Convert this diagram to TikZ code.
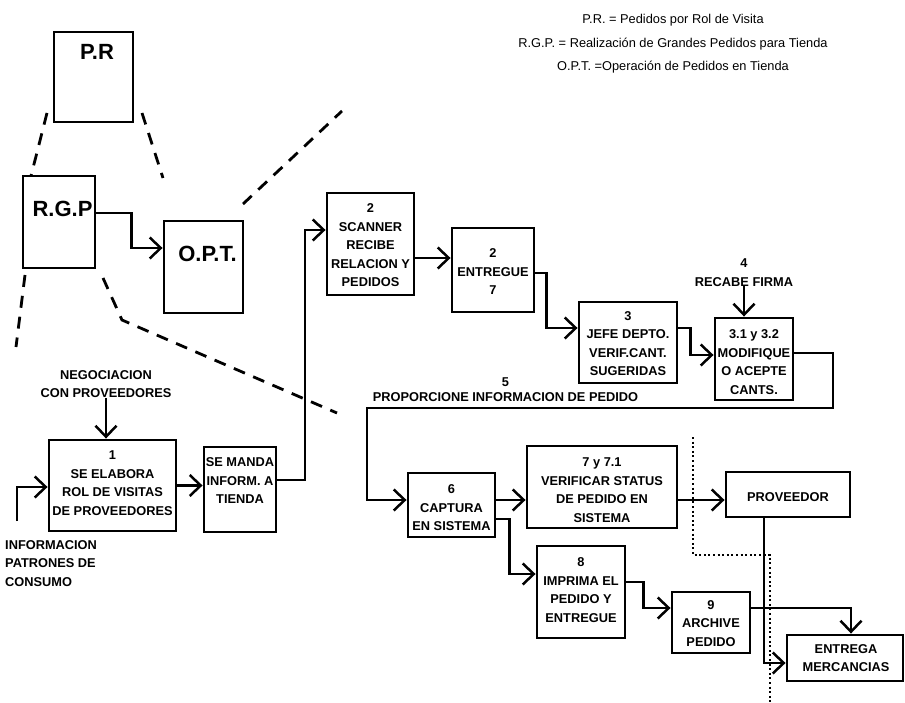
\documentclass[tikz,border=0pt]{standalone}
\usepackage{fontspec}
\setmainfont{Liberation Sans}
\usetikzlibrary{arrows.meta,calc}
\begin{document}
\begin{tikzpicture}[x=1pt,y=-1pt,
  box/.style={draw, line width=2.9pt, inner sep=0pt, line join=miter},
  txt/.style={font=\fontsize{12.8}{18.5}\selectfont\bfseries, align=center, inner sep=0pt},
  ttl/.style={font=\fontsize{22}{26}\selectfont\bfseries, inner sep=0pt},
  hdr/.style={font=\fontsize{12.8}{23.5}\selectfont, align=center, inner sep=0pt},
  arr/.style={line width=2.5pt, line join=miter, -{Straight Barb[length=11pt,width=21pt]}},
  dsh/.style={line width=2.8pt, dash pattern=on 12pt off 9pt},
  dot/.style={line width=2.5pt, dash pattern=on 2pt off 2.6pt}]
\useasboundingbox (0,0) rectangle (905,703);

% legend
\node[hdr] (leg) at (673,44) {P.R. = Pedidos por Rol de Visita\\R.G.P. = Realización de Grandes Pedidos para Tienda\\O.P.T. =Operación de Pedidos en Tienda};

% overview boxes
\node[box, minimum width=79pt, minimum height=90pt] (pr) at (93.5,77) {};
\node[box, minimum width=72pt, minimum height=92pt] (rgp) at (59,222) {};
\node[box, minimum width=79pt, minimum height=92pt] (opt) at (203.5,267) {};
\node[ttl] (prt) at (97,52) {P.R};
\node[ttl] (rgpt) at (62.5,208.5) {R.G.P};
\node[ttl] (optt) at (207.5,253.5) {O.P.T.};

% process boxes
\node[box, minimum width=127pt, minimum height=91pt] (b1) at (112.5,485.5) {};
\node[box, minimum width=72pt, minimum height=85pt] (sm) at (240,489.5) {};
\node[box, minimum width=87pt, minimum height=102pt] (b2) at (370.5,244) {};
\node[box, minimum width=82pt, minimum height=84pt] (en) at (493,270) {};
\node[box, minimum width=98pt, minimum height=81pt] (b3) at (628,342.5) {};
\node[box, minimum width=78pt, minimum height=82pt] (b31) at (754,359) {};
\node[box, minimum width=87pt, minimum height=64pt] (cap) at (451.5,505) {};
\node[box, minimum width=150pt, minimum height=82pt] (b7) at (602,487) {};
\node[box, minimum width=124pt, minimum height=45pt] (prov) at (788,494.5) {};
\node[box, minimum width=88pt, minimum height=92pt] (b8) at (581,592) {};
\node[box, minimum width=78pt, minimum height=61pt] (b9) at (711,622.5) {};
\node[box, minimum width=116pt, minimum height=46pt] (ent) at (845,658) {};

% box texts
\node[txt] (b1t) at (112.5,483) {1\\SE ELABORA\\ROL DE VISITAS\\DE PROVEEDORES};
\node[txt] (smt) at (240,481) {SE MANDA\\INFORM. A\\TIENDA};
\node[txt] (b2t) at (370.5,245.5) {2\\SCANNER\\RECIBE\\RELACION Y\\PEDIDOS};
\node[txt] (ent2) at (493,272) {2\\ENTREGUE\\7};
\node[txt] (b3t) at (628,343.5) {3\\JEFE DEPTO.\\VERIF.CANT.\\SUGERIDAS};
\node[txt] (b31t) at (754,362) {3.1 y 3.2\\MODIFIQUE\\O ACEPTE\\CANTS.};
\node[txt] (capt) at (451.5,508) {6\\CAPTURA\\EN SISTEMA};
\node[txt] (b7t) at (602,490) {7 y 7.1\\VERIFICAR STATUS\\DE PEDIDO EN\\SISTEMA};
\node[txt] (provt) at (788,497) {PROVEEDOR};
\node[txt] (b8t) at (581,590) {8\\IMPRIMA EL\\PEDIDO Y\\ENTREGUE};
\node[txt] (b9t) at (711,623.5) {9\\ARCHIVE\\PEDIDO};
\node[txt] (entt) at (846,658) {ENTREGA\\MERCANCIAS};

% free labels
\node[txt] (negt) at (106,384) {NEGOCIACION\\CON PROVEEDORES};
\node[txt, anchor=west, align=left] (inft) at (5,563.5) {INFORMACION\\PATRONES DE\\CONSUMO};
\node[txt] (rect) at (744,272.5) {4\\RECABE FIRMA};
\node[txt, font=\fontsize{12.8}{15.5}\selectfont\bfseries] (prop) at (505.5,389.5) {5\\PROPORCIONE INFORMACION DE PEDIDO};

% coordinates
\coordinate (infoin) at (17,521);
\coordinate (vup) at (305,400);
\coordinate (lpA) at (833,408);
\coordinate (lpB) at (367,408);

% connectors
\draw[arr] ($(rgp.east)+(0,-9)$) -| ($(opt.west)+(-31,-19)$) -- ($(opt.west)+(0,-19)$);
\draw[arr] (infoin) |- ($(b1.west)+(0,1.5)$);
\draw[arr] (negt.south) -- (negt.south |- b1.north);
\draw[arr] (b1.east) -- (b1.east -| sm.west);
\draw[arr] ($(sm.east)+(0,-9.5)$) -| (vup) |- ($(b2.west)+(0,-14)$);
\draw[arr] ($(b2.east)+(0,14)$) -- ($(en.west)+(0,-12)$);
\draw[arr] ($(en.east)+(0,3)$) -| ($(b3.west)+(-31,-14.5)$) -- ($(b3.west)+(0,-14.5)$);
\draw[arr] ($(b3.east)+(0,-14.5)$) -| ($(b31.west)+(-23,-4)$) -- ($(b31.west)+(0,-4)$);
\draw[arr] (rect.south) -- (rect.south |- b31.north);
\draw[arr] ($(b31.east)+(0,-6)$) -| (lpA) -- (lpB) |- ($(cap.west)+(0,-5)$);
\draw[arr] ($(cap.east)+(0,-5)$) -- ($(b7.west)+(0,13)$);
\draw[arr] ($(b7.east)+(0,13)$) -- ($(prov.west)+(0,5.5)$);
\draw[arr] ($(cap.east)+(0,14)$) -| ($(b8.west)+(-26,-18)$) -- ($(b8.west)+(0,-18)$);
\draw[arr] ($(b8.east)+(0,-10)$) -| ($(b9.west)+(-27,-14.5)$) -- ($(b9.west)+(0,-14.5)$);
\draw[arr] ($(b9.east)+(0,-14.5)$) -| ($(ent.north)+(6,0)$);
\draw[arr] ($(prov.south)+(-24,0)$) |- ($(ent.west)+(0,5)$);

% dashed zoom lines
\coordinate (da1) at (47,113); \coordinate (da2) at (31,176);
\coordinate (db1) at (142,113); \coordinate (db2) at (163,178);
\coordinate (dc1) at (243,204); \coordinate (dc2) at (342,111);
\coordinate (dd1) at (103,278); \coordinate (dd2) at (122,320); \coordinate (dd3) at (337,413);
\coordinate (de1) at (25,275); \coordinate (de2) at (16,347);
\draw[dsh] (da1) -- (da2);
\draw[dsh] (db1) -- (db2);
\draw[dsh] (dc1) -- (dc2);
\draw[dsh] (dd1) -- (dd2) -- (dd3);
\draw[dsh] (de1) -- (de2);

% dotted boundary
\coordinate (p1) at (693,437); \coordinate (p2) at (693,555);
\coordinate (p3) at (770,555); \coordinate (p4) at (770,703);
\draw[dot] (p1) -- (p2) -- (p3) -- (p4);
\end{tikzpicture}
\end{document}
